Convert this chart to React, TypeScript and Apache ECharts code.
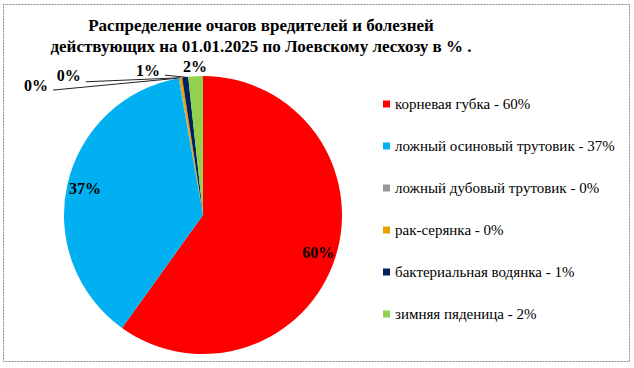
import React, { useEffect, useRef } from "react";
import * as echarts from "echarts";

const titleLines = [
  "Распределение очагов вредителей и болезней",
  "действующих на 01.01.2025 по Лоевскому лесхозу в % .",
];
const categories = [
  "корневая губка - 60%",
  "ложный осиновый трутовик - 37%",
  "ложный дубовый трутовик - 0%",
  "рак-серянка - 0%",
  "бактериальная водянка - 1%",
  "зимняя пяденица - 2%",
];
const values = [59.9, 37.3, 0.1, 0.3, 0.7, 1.7];
const colors = ["#FF0000", "#00B0F0", "#969696", "#E8A000", "#002060", "#92D050"];
// leader-line style settings for the small slices (outside labels)
const lineLen1 = [0, 0, 0, 0, 2, 10];
const lineLen2 = [0, 0, 126, 95, 20, 0];
const labelShiftY = [0, 0, 7, -2, -5, 0];
const lineEndShiftY = [0, 0, 12, 4, 0, 0];

const pct = (p: any) => Math.round(p.percent) + "%";
const SERIF = "'Liberation Serif', 'Times New Roman', serif";
const labelFont = {
  fontFamily: SERIF,
  fontWeight: "bold" as const,
  fontSize: 16,
  color: "#000",
};
const legendText = {
  fontFamily: SERIF,
  fontSize: 15,
  lineHeight: 16,
  color: "#000",
};

export default function App() {
  const ref = useRef<HTMLDivElement>(null);
  useEffect(() => {
    if (!ref.current) return;
    const chart = echarts.init(ref.current, undefined, { renderer: "svg" });
    const center = [203, 215];
    const radius = 139;
    chart.setOption({
      animation: false,
      backgroundColor: "#fff",
      color: colors,
      textStyle: { fontFamily: SERIF },
      graphic: [
        {
          type: "rect",
          shape: { x: 3.5, y: 4.5, width: 626, height: 357 },
          style: { fill: "none", stroke: "#8a8a8a", lineWidth: 1, lineDash: [2, 1] },
          silent: true,
        },
        {
          type: "text",
          x: 261,
          y: 15,
          style: {
            text: titleLines.join("\n"),
            textAlign: "center",
            textVerticalAlign: "top",
            fontFamily: SERIF,
            fontWeight: "bold",
            fontSize: 17,
            lineHeight: 21,
            fill: "#000",
          },
        },
      ],
      legend: {
        orient: "vertical",
        left: 378,
        top: 91,
        itemWidth: 7,
        itemHeight: 7,
        itemGap: 26,
        icon: "rect",
        data: categories,
        selectedMode: false,
        textStyle: legendText,
      },
      series: [
        {
          type: "pie",
          center,
          radius: [0, radius],
          startAngle: 90,
          clockwise: true,
          avoidLabelOverlap: false,
          emphasis: { disabled: true },
          label: { show: false },
          labelLine: { show: false },
          labelLayout: (p: any) => {
            const i = p.dataIndex;
            if (i < 2) return {};
            if (i === 5) return { align: "center", dx: 5 };
            const pts = p.labelLinePoints;
            if (!pts || pts.length < 3) return { dy: labelShiftY[i] };
            return {
              dy: labelShiftY[i],
              labelLinePoints: [pts[0], [pts[2][0], pts[2][1] + lineEndShiftY[i]]],
            };
          },
          data: categories.map((name, i) => ({
            name,
            value: values[i],
            itemStyle: { color: colors[i] },
            label:
              i >= 2
                ? { show: true, position: "outside", formatter: pct, ...labelFont }
                : { show: false },
            labelLine:
              i >= 2
                ? {
                    show: i !== 5,
                    length: lineLen1[i],
                    length2: lineLen2[i],
                    maxSurfaceAngle: 180,
                    lineStyle: { color: "#222", width: 1 },
                  }
                : { show: false },
          })),
        },
        {
          type: "pie",
          center,
          radius: [97, radius],
          startAngle: 90,
          clockwise: true,
          silent: true,
          emphasis: { disabled: true },
          labelLine: { show: false },
          data: categories.map((name, i) => ({
            name,
            value: values[i],
            itemStyle: { color: "transparent", borderWidth: 0 },
            label:
              i < 2
                ? { show: true, position: "inside", formatter: pct, ...labelFont }
                : { show: false },
          })),
        },
      ],
    });
    return () => chart.dispose();
  }, []);
  return (
    <div
      ref={ref}
      style={{ position: "fixed", left: 0, top: 0, width: 634, height: 368 }}
    />
  );
}
